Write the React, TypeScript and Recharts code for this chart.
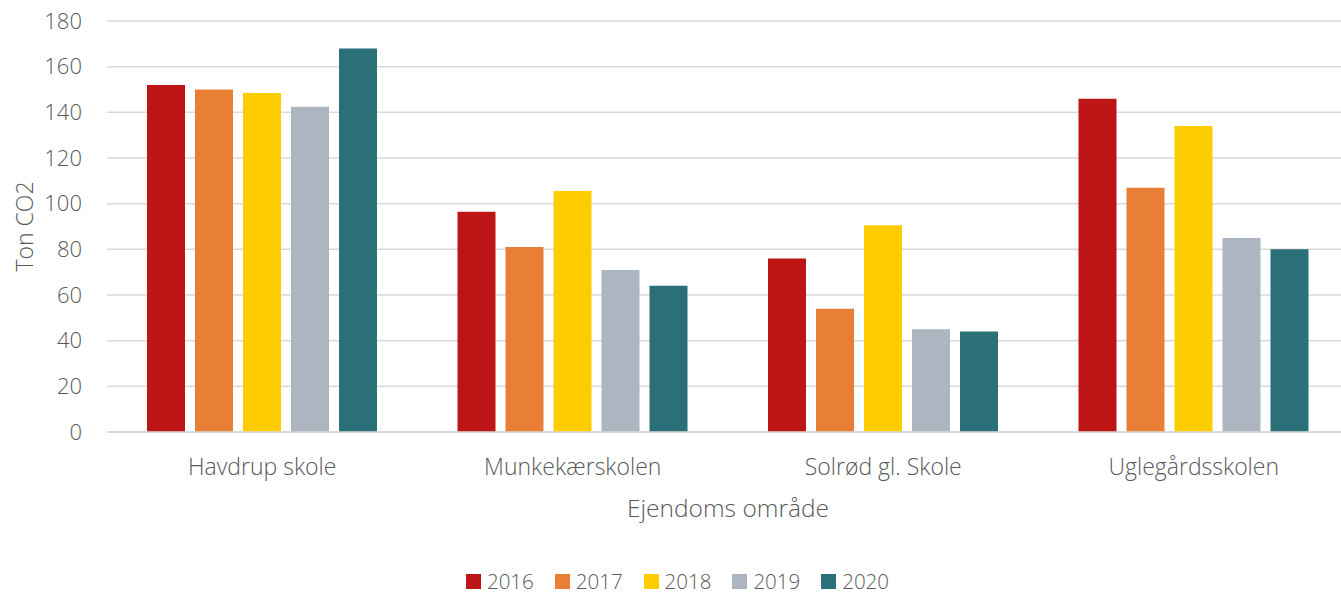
import React from 'react';
import { BarChart, Bar, XAxis, YAxis, CartesianGrid, Legend, Label } from 'recharts';

const schools = ['Havdrup skole', 'Munkekærskolen', 'Solrød gl. Skole', 'Uglegårdsskolen'];
const years = ['2016', '2017', '2018', '2019', '2020'];
const y2016 = [152, 96.5, 76, 146];
const y2017 = [150, 81, 54, 107];
const y2018 = [148.5, 105.5, 90.5, 134];
const y2019 = [142.5, 71, 45, 85];
const y2020 = [168, 64, 44, 80];
const yTicks = [0, 20, 40, 60, 80, 100, 120, 140, 160, 180];

const colors = ['#BD1515', '#E97E36', '#FFCC00', '#ADB5C0', '#2B7078'];
const textColor = '#595959';
const font = '"Open Sans", sans-serif';

const series = [y2016, y2017, y2018, y2019, y2020];
const data = schools.map((name, i) => {
  const row: Record<string, string | number> = { name };
  years.forEach((y, j) => {
    row[y] = series[j][i];
  });
  return row;
});

function LegendBox() {
  return (
    <div
      style={{
        display: 'flex',
        justifyContent: 'center',
        alignItems: 'center',
        height: 26,
        lineHeight: '26px',
        paddingLeft: 6,
        fontFamily: font,
        fontWeight: 300,
        fontSize: 20.5,
        color: textColor,
      }}
    >
      {years.map((y, i) => (
        <div key={y} style={{ display: 'flex', alignItems: 'center', marginRight: i < years.length - 1 ? 21 : 0 }}>
          <span style={{ width: 15, height: 15, background: colors[i], display: 'inline-block', marginRight: 6 }} />
          <span>{y}</span>
        </div>
      ))}
    </div>
  );
}

function YLabel(props: any) {
  const vb = props.viewBox || {};
  const cx = 24;
  const cy = vb.y + vb.height / 2;
  return (
    <text
      x={cx}
      y={cy}
      transform={`rotate(-90 ${cx} ${cy})`}
      textAnchor="middle"
      dominantBaseline="central"
      fill={textColor}
      fontSize={23}
      fontWeight={300}
      fontFamily={font}
    >
      Ton CO2
    </text>
  );
}

export default function App() {
  return (
    <div style={{ position: 'absolute', left: 0, top: 0, background: '#fff', overflow: 'hidden', width: 1341 }}>
      <BarChart
        width={1341}
        height={595}
        data={data}
        margin={{ top: 21, right: -8, left: 0, bottom: 1 }}
        barCategoryGap={40}
        barGap={10}
      >
        <CartesianGrid vertical={false} stroke="#D9D9D9" strokeWidth={1.5} />
        <XAxis
          dataKey="name"
          height={136}
          tickSize={0}
          tickMargin={27}
          axisLine={{ stroke: '#D9D9D9', strokeWidth: 1.5 }}
          tick={{ fill: textColor, fontSize: 23, fontWeight: 300, fontFamily: font }}
        >
          <Label
            value="Ejendoms område"
            position="insideBottom"
            offset={51}
            fill={textColor}
            fontSize={24.5}
            fontWeight={300}
            fontFamily={font}
          />
        </XAxis>
        <YAxis
          width={107}
          domain={[0, 180]}
          ticks={yTicks}
          interval={0}
          tickSize={0}
          tickMargin={25}
          axisLine={false}
          tick={{ fill: textColor, fontSize: 22, fontWeight: 300, fontFamily: font }}
        >
          <Label content={YLabel} />
        </YAxis>
        <Legend verticalAlign="bottom" content={() => <LegendBox />} wrapperStyle={{ height: 26 }} />
        {years.map((y, i) => (
          <Bar key={y} dataKey={y} fill={colors[i]} isAnimationActive={false} />
        ))}
      </BarChart>
    </div>
  );
}
